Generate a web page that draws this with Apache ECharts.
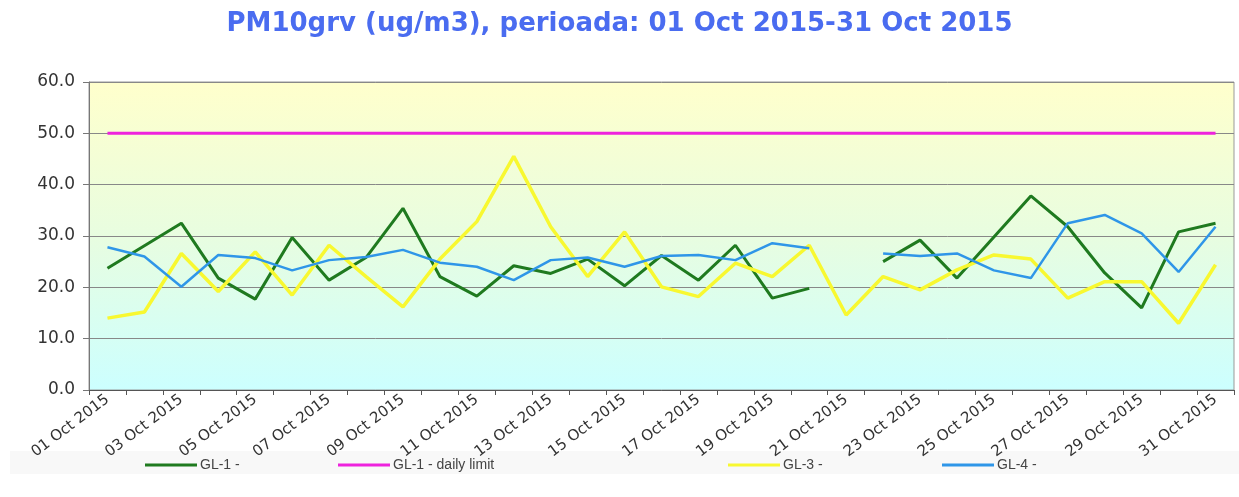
<!DOCTYPE html>
<html>
<head>
<meta charset="utf-8">
<script src="https://cdn.jsdelivr.net/npm/echarts@6/dist/echarts.min.js"></script>
<style>
html,body{margin:0;padding:0;background:#fff;}
#chart{width:1239px;height:497px;}
</style>
</head>
<body>
<div id="chart"></div>
<script>
const titleText = 'PM10grv (ug/m3), perioada: 01 Oct 2015-31 Oct 2015';
const categories = ['01 Oct 2015','02 Oct 2015','03 Oct 2015','04 Oct 2015','05 Oct 2015','06 Oct 2015','07 Oct 2015','08 Oct 2015','09 Oct 2015','10 Oct 2015','11 Oct 2015','12 Oct 2015','13 Oct 2015','14 Oct 2015','15 Oct 2015','16 Oct 2015','17 Oct 2015','18 Oct 2015','19 Oct 2015','20 Oct 2015','21 Oct 2015','22 Oct 2015','23 Oct 2015','24 Oct 2015','25 Oct 2015','26 Oct 2015','27 Oct 2015','28 Oct 2015','29 Oct 2015','30 Oct 2015','31 Oct 2015'];
const seriesNames = ['GL-1 -', 'GL-1 - daily limit', 'GL-3 -', 'GL-4 -'];
const gl1 = [23.7, 28.1, 32.5, 21.8, 17.7, 29.7, 21.4, 25.8, 35.4, 22.1, 18.3, 24.2, 22.7, 25.5, 20.3, 26.2, 21.4, 28.2, 17.9, 19.8, null, 25.0, 29.2, 21.8, 29.8, 37.8, 31.8, 22.8, 16.0, 30.8, 32.5];
const gl1Limit = [50,50,50,50,50,50,50,50,50,50,50,50,50,50,50,50,50,50,50,50,50,50,50,50,50,50,50,50,50,50,50];
const gl3 = [14.0, 15.2, 26.6, 19.2, 26.9, 18.5, 28.2, 22.1, 16.2, 25.5, 32.8, 45.5, 31.8, 22.1, 30.8, 20.1, 18.2, 24.7, 22.1, 28.2, 14.6, 22.1, 19.5, 23.4, 26.3, 25.5, 17.9, 21.1, 21.1, 13.0, 24.4];
const gl4 = [27.8, 26.0, 20.1, 26.3, 25.7, 23.3, 25.3, 25.9, 27.3, 24.8, 24.0, 21.4, 25.3, 25.8, 24.0, 26.1, 26.3, 25.3, 28.6, 27.6, null, 26.6, 26.1, 26.6, 23.3, 21.8, 32.5, 34.1, 30.5, 23.0, 31.8];
const yMin = 0, yMax = 60, yStep = 10;

const colors = ['#1f7a1f', '#ee22dd', '#f8f830', '#2f96e8'];
const widths = [3, 3, 3.5, 2.5];
const dataArr = [gl1, gl1Limit, gl3, gl4];

const chart = echarts.init(document.getElementById('chart'), null, {renderer: 'canvas'});

const legendLefts = [140, 333, 723, 937];
const legends = seriesNames.map((n, i) => ({
  data: [n],
  left: legendLefts[i],
  top: 453,
  itemWidth: 52,
  itemHeight: 3,
  itemGap: 4,
  icon: 'rect',
  textStyle: {fontFamily: 'Liberation Sans', fontSize: 14, color: '#444', padding: [0,0,0,-2]},
  selectedMode: false
}));

chart.setOption({
  animation: false,
  backgroundColor: '#ffffff',
  title: {
    text: titleText,
    left: 'center',
    top: 6,
    textStyle: {fontFamily: 'DejaVu Sans', fontWeight: 'bold', fontSize: 26, color: '#4a6cf0'}
  },
  graphic: [{
    type: 'rect', left: 10, top: 451, z: -1,
    shape: {width: 1229, height: 23},
    style: {fill: '#f8f8f8'}
  }],
  legend: legends,
  grid: {
    left: 89, right: 5, top: 82, bottom: 107,
    show: true,
    borderColor: '#999',
    borderWidth: 1,
    backgroundColor: new echarts.graphic.LinearGradient(0, 0, 0, 1, [
      {offset: 0, color: '#ffffcc'},
      {offset: 0.5, color: '#e8fde0'},
      {offset: 1, color: '#ccffff'}
    ])
  },
  xAxis: {
    type: 'category',
    data: categories,
    boundaryGap: true,
    axisLine: {lineStyle: {color: '#555', width: 1}},
    axisTick: {show: true, interval: 0, length: 5, lineStyle: {color: '#555'}},
    axisLabel: {
      interval: 1,
      rotate: 37,
      margin: 8,
      fontFamily: 'DejaVu Sans',
      fontSize: 15,
      color: '#333'
    },
    splitLine: {show: false}
  },
  yAxis: {
    type: 'value',
    min: yMin, max: yMax, interval: yStep,
    axisLine: {show: true, lineStyle: {color: '#777', width: 1}},
    axisTick: {show: true, length: 6, lineStyle: {color: '#777'}},
    axisLabel: {
      formatter: v => v.toFixed(1),
      fontFamily: 'DejaVu Sans',
      fontSize: 17,
      color: '#333',
      margin: 14
    },
    splitLine: {show: true, lineStyle: {color: '#888', width: 1}}
  },
  series: seriesNames.map((n, i) => ({
    name: n,
    type: 'line',
    data: dataArr[i],
    showSymbol: false,
    symbol: 'none',
    connectNulls: false,
    color: colors[i],
    lineStyle: {color: colors[i], width: widths[i]},
    z: 2 + i
  }))
});
</script>
</body>
</html>
